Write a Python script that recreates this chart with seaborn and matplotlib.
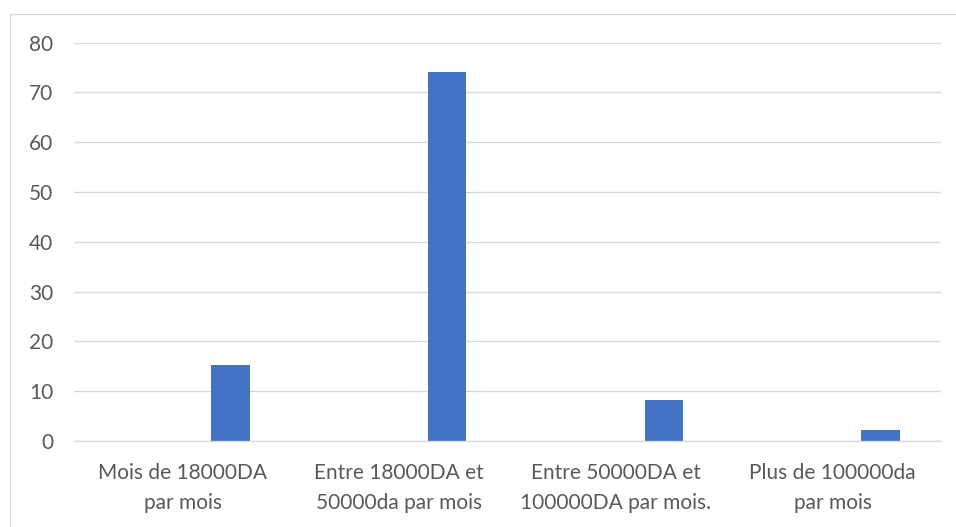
import pandas as pd
import matplotlib.pyplot as plt
import matplotlib.patches as mpatches
import seaborn as sns

categories = [
    "Mois de 18000DA\npar mois",
    "Entre 18000DA et\n50000da par mois",
    "Entre 50000DA et\n100000DA par mois.",
    "Plus de 100000da\npar mois",
]
values = [15.2, 74.2, 8.2, 2.2]
# Excel left an empty first series, so the real bars sit right of centre
empty_series = [0, 0, 0, 0]

df = pd.DataFrame({
    "categorie": categories * 2,
    "valeur": empty_series + values,
    "serie": ["vide"] * 4 + ["Série1"] * 4,
})

sns.set_theme(style="white")
plt.rcParams["font.family"] = ["Lato", "DejaVu Sans"]

fig = plt.figure(figsize=(9.56, 5.27), dpi=100)
ax = fig.add_axes([0.0777, 0.1632, 0.9066, 0.7558])

sns.barplot(
    data=df,
    x="categorie",
    y="valeur",
    hue="serie",
    hue_order=["vide", "Série1"],
    palette={"vide": "#4472C4", "Série1": "#4472C4"},
    saturation=1,
    width=0.886,
    gap=0.6,
    linewidth=0,
    errorbar=None,
    legend=False,
    ax=ax,
)

ax.set_ylim(0, 80)
ax.set_xlim(-0.5, 3.5)
ax.set_yticks(range(0, 81, 10))
ax.yaxis.grid(True, color="#D9D9D9", linewidth=1.0)
ax.set_axisbelow(True)
for s in ["top", "right", "left"]:
    ax.spines[s].set_visible(False)
ax.spines["bottom"].set_color("#D9D9D9")
ax.spines["bottom"].set_linewidth(1.0)
ax.set_xlabel("")
ax.set_ylabel("")
ax.tick_params(axis="y", length=0, pad=15, labelsize=15, labelcolor="#595959")
ax.tick_params(axis="x", length=0, pad=16, labelsize=15, labelcolor="#595959")
for lbl in ax.get_xticklabels():
    lbl.set_linespacing(1.6)

# chart area border
fig.patches.append(mpatches.Rectangle(
    (10 / 956, -0.01), 1.0, 1 - 13.5 / 527 + 0.01,
    transform=fig.transFigure, fill=False,
    edgecolor="#D9D9D9", linewidth=1.0))

fig.savefig("out.png", dpi=100)
